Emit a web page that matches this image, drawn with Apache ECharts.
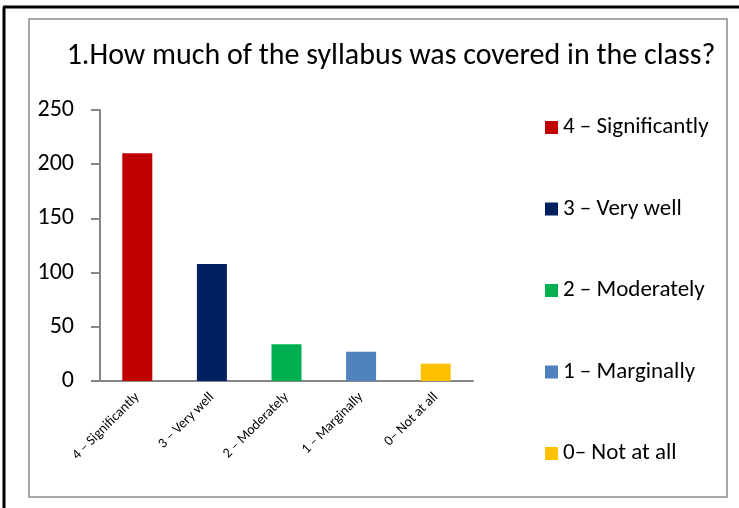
<!DOCTYPE html>
<html>
<head>
<meta charset="utf-8">
<script src="https://cdn.jsdelivr.net/npm/echarts@6/dist/echarts.min.js"></script>
<style>
  html, body { margin: 0; padding: 0; background: #fff; }
  #chart { width: 739px; height: 508px; }
</style>
</head>
<body>
<div id="chart"></div>
<script>
// survey answers
const categories = ['4 – Significantly', '3 – Very well', '2 – Moderately', '1 – Marginally', '0– Not at all']
const counts = [210, 108, 34, 27, 16]
const colors = ['#C00000', '#002060', '#00B050', '#4F81BD', '#FFC000']
const yTicks = { min: 0, max: 250, interval: 50 }

const font = 'Carlito, Lato, sans-serif'

const chart = echarts.init(document.getElementById('chart'))

// one series per category so each one gets its own legend entry
const series = categories.map((name, i) => ({
  name,
  type: 'bar',
  stack: 'all',
  barWidth: 30,
  itemStyle: { color: colors[i] },
  data: counts.map((v, j) => (j === i ? v : '-')),
}))

chart.setOption({
  animation: false,
  color: colors,
  title: {
    text: '1.How much of the syllabus was covered in the class?',
    left: 386,
    top: 36,
    textAlign: 'center',
    textStyle: { fontFamily: font, fontSize: 30, fontWeight: 'normal', color: '#000' },
  },
  legend: {
    orient: 'vertical',
    left: 540,
    top: 111,
    itemWidth: 13,
    itemHeight: 13,
    itemGap: 58.5,
    icon: 'rect',
    textStyle: { fontFamily: font, fontSize: 23, color: '#000' },
    data: categories,
  },
  grid: { left: 100, right: 266, top: 110, bottom: 127 },
  xAxis: {
    type: 'category',
    data: categories,
    axisLine: { lineStyle: { color: '#868686', width: 2 } },
    axisTick: { length: 5, lineStyle: { color: '#868686', width: 2 } },
    axisLabel: { rotate: 45, margin: 14, fontFamily: font, fontSize: 14, color: '#000' },
  },
  yAxis: {
    type: 'value',
    min: yTicks.min,
    max: yTicks.max,
    interval: yTicks.interval,
    splitLine: { show: false },
    axisLine: { show: true, lineStyle: { color: '#868686', width: 2 } },
    axisTick: { show: true, length: 9, lineStyle: { color: '#868686', width: 2 } },
    axisLabel: { margin: 26, fontFamily: font, fontSize: 24, color: '#000' },
  },
  graphic: [
    { type: 'line', shape: { x1: 4, y1: 7, x2: 4, y2: 508 }, style: { stroke: '#000', lineWidth: 3 } },
    { type: 'line', shape: { x1: 3, y1: 7, x2: 739, y2: 7 }, style: { stroke: '#000', lineWidth: 3 } },
    { type: 'rect', shape: { x: 29, y: 19, width: 698, height: 478 }, style: { fill: 'none', stroke: '#a6a6a6', lineWidth: 2 }, z: -1 },
  ],
  series,
})
</script>
</body>
</html>
